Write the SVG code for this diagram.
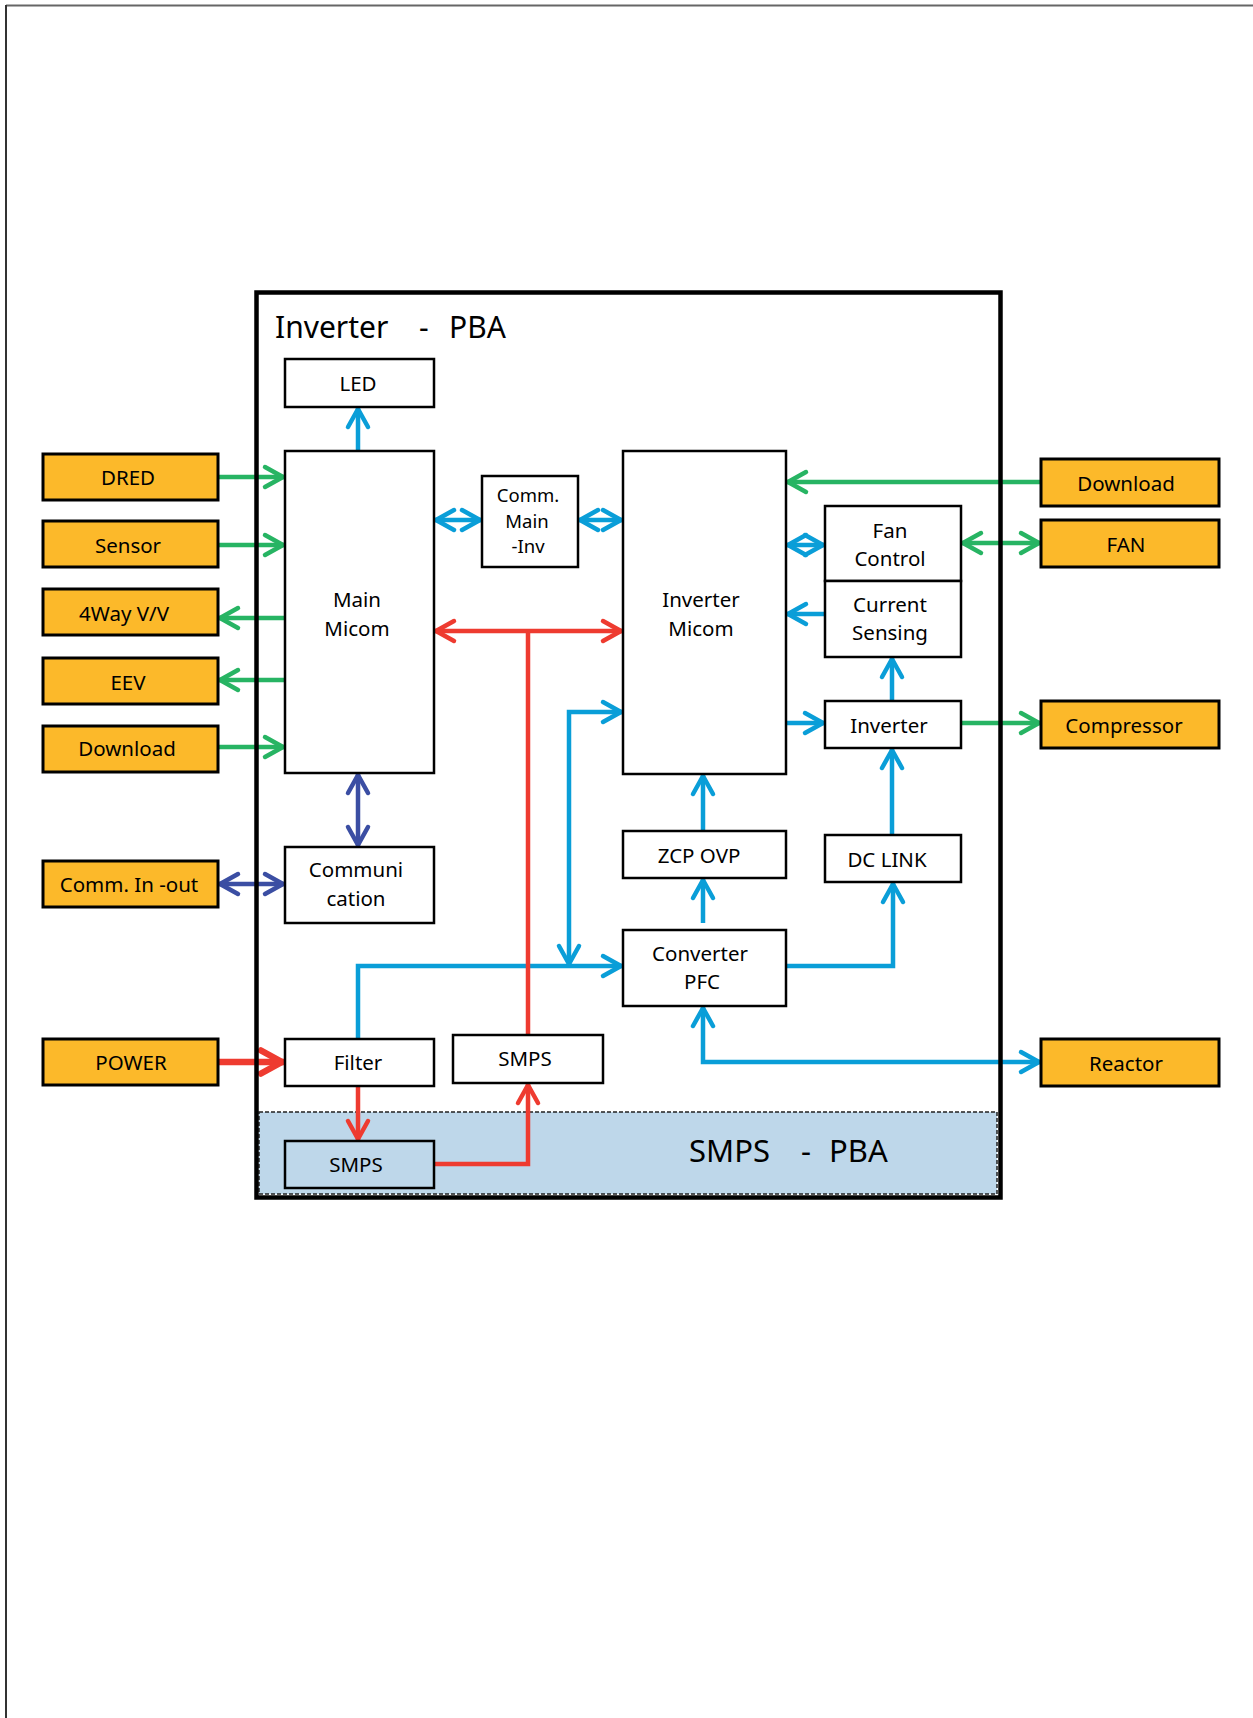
<svg xmlns="http://www.w3.org/2000/svg" width="1253" height="1718" viewBox="0 0 1253 1718">
<style>
  text { font-family: "Noto Sans", "Open Sans", "Liberation Sans", sans-serif; fill: #000; text-anchor: middle; }
  .lbl { font-size: 20.5px; }
  .sml { font-size: 18.5px; }
  .big { font-size: 30px; text-anchor: start; }
  .ext rect { fill: #FCB92A; stroke: #000; stroke-width: 3; }
  .blk rect { fill: #fff; stroke: #000; stroke-width: 2.5; }
  .blk rect.inpba { fill: none; }
  .c { fill: none; stroke-width: 4.5; stroke-linejoin: miter; }
  .g { stroke: #27B463; }
  .b { stroke: #0A9ED8; }
  .r { stroke: #EE3B30; }
  .n { stroke: #3B4EA3; }
</style>
<defs>
  <marker id="ag" markerUnits="userSpaceOnUse" viewBox="-30 -20 40 40" markerWidth="40" markerHeight="40" refX="0" refY="0" orient="auto-start-reverse" overflow="visible">
    <path d="M-20,-10 L-2,0 L-20,10" fill="none" stroke="#27B463" stroke-width="4.5" stroke-linejoin="round" stroke-linecap="round"/>
  </marker>
  <marker id="ab" markerUnits="userSpaceOnUse" viewBox="-30 -20 40 40" markerWidth="40" markerHeight="40" refX="0" refY="0" orient="auto-start-reverse" overflow="visible">
    <path d="M-20,-10 L-2,0 L-20,10" fill="none" stroke="#0A9ED8" stroke-width="4.5" stroke-linejoin="round" stroke-linecap="round"/>
  </marker>
  <marker id="ar" markerUnits="userSpaceOnUse" viewBox="-30 -20 40 40" markerWidth="40" markerHeight="40" refX="0" refY="0" orient="auto-start-reverse" overflow="visible">
    <path d="M-20,-10 L-2,0 L-20,10" fill="none" stroke="#EE3B30" stroke-width="4.5" stroke-linejoin="round" stroke-linecap="round"/>
  </marker>
  <marker id="arT" markerUnits="userSpaceOnUse" viewBox="-30 -20 40 40" markerWidth="40" markerHeight="40" refX="0" refY="0" orient="auto-start-reverse" overflow="visible">
    <path d="M-24,-11.5 L-3,0 L-24,11.5" fill="none" stroke="#EE3B30" stroke-width="6.5" stroke-linejoin="round" stroke-linecap="round"/>
  </marker>
  <marker id="an" markerUnits="userSpaceOnUse" viewBox="-30 -20 40 40" markerWidth="40" markerHeight="40" refX="0" refY="0" orient="auto-start-reverse" overflow="visible">
    <path d="M-20,-10 L-2,0 L-20,10" fill="none" stroke="#3B4EA3" stroke-width="4.5" stroke-linejoin="round" stroke-linecap="round"/>
  </marker>
</defs>

<!-- page border -->
<line x1="6" y1="5.5" x2="1253" y2="5.5" stroke="#666" stroke-width="2"/>
<line x1="6" y1="5" x2="6" y2="1718" stroke="#333" stroke-width="2"/>

<!-- SMPS PBA area -->
<g id="smps-pba">
  <rect x="259" y="1112" width="738" height="82" fill="#BED7EA" stroke="#222" stroke-width="1.5" stroke-dasharray="4 2"/>
  <text class="big" y="1162" style="font-size:31px"><tspan x="689">SMPS</tspan><tspan x="801">-</tspan><tspan x="829">PBA</tspan></text>
</g>

<!-- connectors -->
<g id="connectors">
  <!-- green -->
  <path class="c g" d="M218,477 H285" marker-end="url(#ag)"/>
  <path class="c g" d="M218,545 H285" marker-end="url(#ag)"/>
  <path class="c g" d="M285,618 H218" marker-end="url(#ag)"/>
  <path class="c g" d="M285,680 H218" marker-end="url(#ag)"/>
  <path class="c g" d="M218,747 H285" marker-end="url(#ag)"/>
  <path class="c g" d="M1041,482 H786" marker-end="url(#ag)"/>
  <path class="c g" d="M961,543 H1041" marker-start="url(#ag)" marker-end="url(#ag)"/>
  <path class="c g" d="M961,723 H1041" marker-end="url(#ag)"/>
  <!-- blue -->
  <path class="c b" d="M358,451 V407" marker-end="url(#ab)"/>
  <path class="c b" d="M434,520 H482" marker-start="url(#ab)" marker-end="url(#ab)"/>
  <path class="c b" d="M578,520 H623" marker-start="url(#ab)" marker-end="url(#ab)"/>
  <path class="c b" d="M786,545 H825" marker-start="url(#ab)" marker-end="url(#ab)"/>
  <path class="c b" d="M825,614 H786" marker-end="url(#ab)"/>
  <path class="c b" d="M892,701 V657" marker-end="url(#ab)"/>
  <path class="c b" d="M786,723 H825" marker-end="url(#ab)"/>
  <path class="c b" d="M892,835 V748" marker-end="url(#ab)"/>
  <path class="c b" d="M703,831 V774" marker-end="url(#ab)"/>
  <path class="c b" d="M703,923 V878" marker-end="url(#ab)"/>
  <path class="c b" d="M786,966 H893 V882" marker-end="url(#ab)"/>
  <path class="c b" d="M703,1006 V1062 H1041" marker-start="url(#ab)" marker-end="url(#ab)"/>
  <path class="c b" d="M569,966 V712 H623" marker-start="url(#ab)" marker-end="url(#ab)"/>
  <path class="c b" d="M358,1039 V966 H623" marker-end="url(#ab)"/>
  <!-- red -->
  <path class="c r" d="M434,631 H623" marker-start="url(#ar)" marker-end="url(#ar)"/>
  <path class="c r" d="M528,1035 V631"/>
  <path class="c r" d="M218,1062 H285" style="stroke-width:6.5" marker-end="url(#arT)"/>
  <path class="c r" d="M358,1086 V1141" marker-end="url(#ar)"/>
  <path class="c r" d="M434,1164 H528 V1083" marker-end="url(#ar)"/>
  <!-- navy -->
  <path class="c n" d="M358,773 V847" marker-start="url(#an)" marker-end="url(#an)"/>
  <path class="c n" d="M218,884 H285" marker-start="url(#an)" marker-end="url(#an)"/>
</g>

<!-- Inverter PBA frame -->
<g id="inverter-pba">
  <rect x="256.5" y="292.5" width="744" height="905" fill="none" stroke="#000" stroke-width="4.5"/>
  <text class="big" y="338"><tspan x="275">Inverter</tspan><tspan x="419">-</tspan><tspan x="449">PBA</tspan></text>
</g>

<!-- external nodes -->
<g class="ext">
  <g id="dred"><rect x="43" y="454" width="175" height="46"/><text class="lbl" x="128" y="485">DRED</text></g>
  <g id="sensor"><rect x="43" y="521" width="175" height="46"/><text class="lbl" x="128" y="553">Sensor</text></g>
  <g id="way4"><rect x="43" y="589" width="175" height="46"/><text class="lbl" x="124" y="621">4Way V/V</text></g>
  <g id="eev"><rect x="43" y="658" width="175" height="46"/><text class="lbl" x="128" y="690">EEV</text></g>
  <g id="download-l"><rect x="43" y="726" width="175" height="46"/><text class="lbl" x="127" y="756">Download</text></g>
  <g id="comm-inout"><rect x="43" y="861" width="175" height="46"/><text class="lbl" x="129" y="892">Comm. In -out</text></g>
  <g id="power"><rect x="43" y="1039" width="175" height="46"/><text class="lbl" x="131" y="1070">POWER</text></g>
  <g id="download-r"><rect x="1041" y="459" width="178" height="47"/><text class="lbl" x="1126" y="491">Download</text></g>
  <g id="fan"><rect x="1041" y="520" width="178" height="47"/><text class="lbl" x="1126" y="552">FAN</text></g>
  <g id="compressor"><rect x="1041" y="701" width="178" height="47"/><text class="lbl" x="1124" y="733">Compressor</text></g>
  <g id="reactor"><rect x="1041" y="1039" width="178" height="47"/><text class="lbl" x="1126" y="1071">Reactor</text></g>
</g>

<!-- internal nodes -->
<g class="blk">
  <g id="led"><rect x="285" y="359" width="149" height="48"/><text class="lbl" x="358" y="391">LED</text></g>
  <g id="main-micom"><rect x="285" y="451" width="149" height="322"/><text class="lbl" x="357" y="607">Main</text><text class="lbl" x="357" y="636">Micom</text></g>
  <g id="comm-main-inv"><rect x="482" y="476" width="96" height="91"/><text class="sml" x="528" y="502">Comm.</text><text class="sml" x="527" y="528">Main</text><text class="sml" x="528" y="553">-Inv</text></g>
  <g id="inverter-micom"><rect x="623" y="451" width="163" height="323"/><text class="lbl" x="701" y="607">Inverter</text><text class="lbl" x="701" y="636">Micom</text></g>
  <g id="fan-control"><rect x="825" y="506" width="136" height="75"/><text class="lbl" x="890" y="538">Fan</text><text class="lbl" x="890" y="566">Control</text></g>
  <g id="current-sensing"><rect x="825" y="581" width="136" height="76"/><text class="lbl" x="890" y="612">Current</text><text class="lbl" x="890" y="640">Sensing</text></g>
  <g id="inverter"><rect x="825" y="701" width="136" height="47"/><text class="lbl" x="889" y="733">Inverter</text></g>
  <g id="zcp-ovp"><rect x="623" y="831" width="163" height="47"/><text class="lbl" x="699" y="863">ZCP OVP</text></g>
  <g id="dc-link"><rect x="825" y="835" width="136" height="47"/><text class="lbl" x="887" y="867">DC LINK</text></g>
  <g id="converter-pfc"><rect x="623" y="930" width="163" height="76"/><text class="lbl" x="700" y="961">Converter</text><text class="lbl" x="702" y="989">PFC</text></g>
  <g id="communication"><rect x="285" y="847" width="149" height="76"/><text class="lbl" x="356" y="877">Communi</text><text class="lbl" x="356" y="906">cation</text></g>
  <g id="filter"><rect x="285" y="1039" width="149" height="47"/><text class="lbl" x="358" y="1070">Filter</text></g>
  <g id="smps-upper"><rect x="453" y="1035" width="150" height="48"/><text class="lbl" x="525" y="1066">SMPS</text></g>
  <g id="smps-lower"><rect class="inpba" x="285" y="1141" width="149" height="47"/><text class="lbl" x="356" y="1172">SMPS</text></g>
</g>
</svg>
